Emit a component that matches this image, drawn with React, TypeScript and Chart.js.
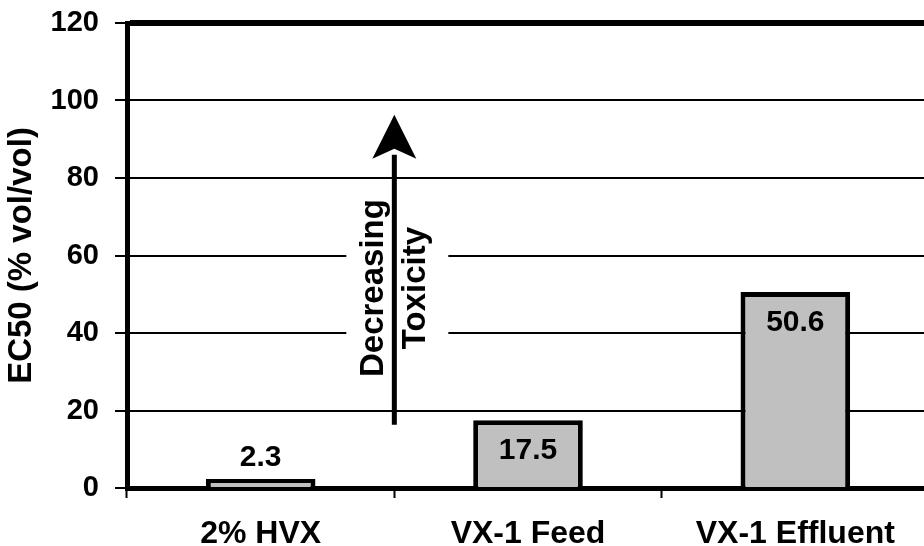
import React, { useEffect, useRef } from "react";
import { Chart, registerables } from "chart.js";

Chart.register(...registerables);

const categories = ["2% HVX", "VX-1 Feed", "VX-1 Effluent"];
const ec50Values = [2.3, 17.5, 50.6];
const yTicks = [0, 20, 40, 60, 80, 100, 120];
const annotationLines = ["Decreasing", "Toxicity"];
const arrowFrom = 16.3;
const arrowTo = 96.3;
const arrowHeadBase = 85;
const annotationCenter = 51.6;
const annotationBoxLow = 29.2;
const annotationBoxHigh = 75.2;

const FONT = '"Liberation Sans", Arial, Helvetica, sans-serif';

const overlayPlugin = {
  id: "overlay",
  afterDraw(chart: any) {
    const ctx = chart.ctx;
    const xs = chart.scales.x;
    const ys = chart.scales.y;
    ctx.save();
    // data labels
    const meta = chart.getDatasetMeta(0);
    ctx.font = `bold 30px ${FONT}`;
    ctx.fillStyle = "#000";
    ctx.textAlign = "center";
    ctx.textBaseline = "middle";
    meta.data.forEach((bar: any, i: number) => {
      const h = bar.base - bar.y;
      const label = String(ec50Values[i]);
      const y = h > 50 ? bar.y + 31 : bar.y - 21;
      ctx.fillText(label, bar.x, y);
    });

    // annotation
    const ax = xs.getPixelForValue(0.5);
    const boxTop = ys.getPixelForValue(annotationBoxHigh);
    const boxBot = ys.getPixelForValue(annotationBoxLow);
    ctx.fillStyle = "#fff";
    ctx.fillRect(ax - 48, boxTop, 102, boxBot - boxTop);

    const yFrom = ys.getPixelForValue(arrowFrom);
    const yTo = ys.getPixelForValue(arrowTo);
    const yHead = ys.getPixelForValue(arrowHeadBase);
    ctx.strokeStyle = "#000";
    ctx.lineWidth = 5;
    ctx.beginPath();
    ctx.moveTo(ax, yFrom);
    ctx.lineTo(ax, yHead - 4);
    ctx.stroke();
    ctx.fillStyle = "#000";
    ctx.beginPath();
    ctx.moveTo(ax, yTo);
    ctx.lineTo(ax - 22, yHead);
    ctx.lineTo(ax, yHead - 10);
    ctx.lineTo(ax + 22, yHead);
    ctx.closePath();
    ctx.fill();

    const yc = ys.getPixelForValue(annotationCenter);
    ctx.font = `bold 33px ${FONT}`;
    ctx.textAlign = "center";
    ctx.textBaseline = "middle";
    const offsets = [-20, 22];
    annotationLines.forEach((t, i) => {
      ctx.save();
      ctx.translate(ax + offsets[i], yc);
      ctx.rotate(-Math.PI / 2);
      ctx.fillText(t, 0, 0);
      ctx.restore();
    });
    ctx.restore();
  },
};

export default function App() {
  const ref = useRef<HTMLCanvasElement | null>(null);
  useEffect(() => {
    if (!ref.current) return;
    Chart.defaults.font.family = FONT;
    const chart = new Chart(ref.current, {
      type: "bar",
      data: {
        labels: categories,
        datasets: [
          {
            data: ec50Values,
            backgroundColor: "#c0c0c0",
            borderColor: "#000",
            borderWidth: 5,
            barPercentage: 0.82,
            categoryPercentage: 0.5,
          },
        ],
      },
      options: {
        animation: false,
        responsive: false,
        maintainAspectRatio: false,
        layout: { padding: { top: 23, right: 11, left: 0, bottom: 0 } },
        plugins: {
          legend: { display: false },
          tooltip: { enabled: false },
        },
        scales: {
          x: {
            offset: true,
            grid: {
              display: true,
              offset: true,
              drawOnChartArea: false,
              drawTicks: true,
              tickLength: 10,
              tickWidth: 2,
              color: "#000",
            },
            border: { display: true, color: "#000", width: 5 },
            ticks: {
              color: "#000",
              font: { size: 32, weight: "bold" },
              padding: 17,
              maxRotation: 0,
              autoSkip: false,
            },
            afterFit(scale: any) {
              scale.height = 58;
              scale.paddingLeft = 0;
              scale.paddingRight = 0;
            },
          },
          y: {
            min: 0,
            max: 120,
            afterBuildTicks(scale: any) {
              scale.ticks = yTicks.map((v) => ({ value: v }));
            },
            grid: {
              color: "#000",
              lineWidth: (c: any) => (c.tick && c.tick.value === 120 ? 6 : 2),
              tickLength: 12,
              tickWidth: 2,
              drawTicks: true,
            },
            border: { display: true, color: "#000", width: 5 },
            ticks: {
              color: "#000",
              font: { size: 29, weight: "bold" },
              padding: 16,
            },
            title: {
              display: true,
              text: "EC50 (% vol/vol)",
              color: "#000",
              font: { size: 33, weight: "bold" },
              padding: { top: 2, bottom: 0 },
            },
            afterFit(scale: any) {
              scale.width = 127;
              scale.paddingTop = 0;
              scale.paddingBottom = 0;
            },
          },
        },
      },
      plugins: [overlayPlugin],
    } as any);
    return () => chart.destroy();
  }, []);
  return (
    <div
      style={{
        position: "fixed",
        left: 0,
        top: 0,
        width: 924,
        height: 546,
        overflow: "hidden",
        background: "#fff",
      }}
    >
      <canvas ref={ref} width={940} height={546} style={{ display: "block" }} />
    </div>
  );
}
